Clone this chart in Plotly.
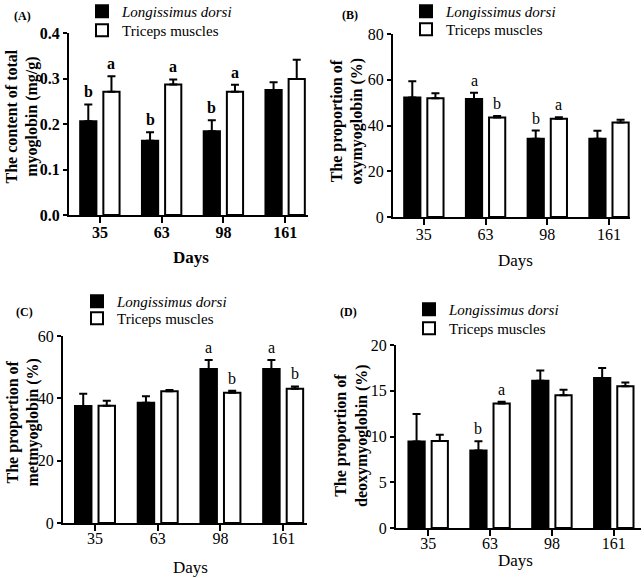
import plotly.graph_objects as go

# ---------------- data ----------------
days = ["35", "63", "98", "161"]

A_ld = [0.206, 0.163, 0.184, 0.275]
A_ld_err = [0.037, 0.019, 0.024, 0.017]
A_tm = [0.271, 0.287, 0.271, 0.299]
A_tm_err = [0.034, 0.011, 0.015, 0.042]
A_ld_lab = ["b", "b", "b", ""]
A_tm_lab = ["a", "a", "a", ""]

B_ld = [52.2, 51.6, 34.2, 34.2]
B_ld_err = [7.1, 2.7, 3.6, 3.5]
B_tm = [51.9, 43.5, 43.0, 41.3]
B_tm_err = [2.2, 0.6, 0.6, 1.2]
B_ld_lab = ["", "a", "b", ""]
B_tm_lab = ["", "b", "a", ""]

C_ld = [37.5, 38.6, 49.4, 49.4]
C_ld_err = [4.0, 2.1, 2.9, 2.9]
C_tm = [37.6, 42.3, 41.8, 43.1]
C_tm_err = [1.6, 0.4, 0.6, 0.7]
C_ld_lab = ["", "", "a", "a"]
C_tm_lab = ["", "", "b", "b"]

D_ld = [9.46, 8.48, 16.1, 16.4]
D_ld_err = [3.0, 1.0, 1.1, 1.1]
D_tm = [9.5, 13.6, 14.5, 15.5]
D_tm_err = [0.7, 0.2, 0.6, 0.4]
D_ld_lab = ["", "b", "", ""]
D_tm_lab = ["", "a", "", ""]

series_names = ["<i>Longissimus dorsi</i>", "Triceps muscles"]

W, H = 644, 578
FONT = "Liberation Serif"
BARGAP = 0.25
OFF = (1 - BARGAP) / 4
LEG_OFF = 15  # px between legend top and its row centre


def px(x):
    return x / W


def py(y):
    return 1 - y / H


fig = go.Figure()

panels = [
    dict(ld=A_ld, lde=A_ld_err, tm=A_tm, tme=A_tm_err, ldl=A_ld_lab, tml=A_tm_lab,
         xd=[69, 308], yd=[215, 33], yr=[0, 0.4], dt=0.1, fmt=".1f",
         xr=[-0.50, 3.37], bold=True, legx=82, legy=(10, 29), xso=-4,
         ytitle="The content of total<br>myoglobin (mg/g)", yt=(21.5, 117),
         xt=(191, 257), lab="(A)", labpos=(22, 16)),
    dict(ld=B_ld, lde=B_ld_err, tm=B_tm, tme=B_tm_err, ldl=B_ld_lab, tml=B_tm_lab,
         xd=[393, 630], yd=[217, 34], yr=[0, 80], dt=20, fmt="d",
         xr=[-0.50, 3.34], bold=False, legx=406, legy=(10, 28), xso=-4,
         ytitle="The proportion of<br>oxymyoglobin (%)", yt=(346.5, 121),
         xt=(515, 260), lab="(B)", labpos=(350, 15)),
    dict(ld=C_ld, lde=C_ld_err, tm=C_tm, tme=C_tm_err, ldl=C_ld_lab, tml=C_tm_lab,
         xd=[63, 307], yd=[523, 336], yr=[0, 60], dt=20, fmt="d",
         xr=[-0.51, 3.38], bold=False, legx=77, legy=(300, 317), xso=-6,
         ytitle="The proportion of<br>metmyoglobin (%)", yt=(22.5, 423),
         xt=(190, 567), lab="(C)", labpos=(24, 312)),
    dict(ld=D_ld, lde=D_ld_err, tm=D_tm, tme=D_tm_err, ldl=D_ld_lab, tml=D_tm_lab,
         xd=[396, 641], yd=[528, 345], yr=[0, 20], dt=5, fmt="d",
         xr=[-0.52, 3.44], bold=False, legx=409, legy=(308, 327), xso=-6,
         ytitle="The proportion of<br>deoxymyoglobin (%)", yt=(351, 435),
         xt=(515, 560), lab="(D)", labpos=(348, 312)),
]

annotations = []
layout = {}
xpos = list(range(len(days)))

for i, p in enumerate(panels):
    n = "" if i == 0 else str(i + 1)
    xa, ya = "x" + n, "y" + n
    weight = "bold" if p["bold"] else "normal"

    for j, (vals, errs, color, name) in enumerate(
            [(p["ld"], p["lde"], "black", series_names[0]),
             (p["tm"], p["tme"], "white", series_names[1])]):
        li = 2 * i + j + 1
        leg = "legend" if li == 1 else "legend%d" % li
        fig.add_trace(go.Bar(
            x=xpos, y=vals, name=name, xaxis=xa, yaxis=ya, legend=leg,
            marker=dict(color=color, line=dict(color="black", width=2)),
            error_y=dict(type="data", array=errs, arrayminus=[0] * len(errs),
                         symmetric=False, color="black", thickness=2, width=4),
            showlegend=True,
        ))
        layout[leg] = dict(
            x=px(p["legx"]), y=py(p["legy"][j] - LEG_OFF),
            xanchor="left", yanchor="top",
            bgcolor="rgba(0,0,0,0)", borderwidth=0,
            font=dict(family=FONT, size=15, color="black"))

    # significance letters
    for vals, errs, labs, sgn in [(p["ld"], p["lde"], p["ldl"], -1),
                                  (p["tm"], p["tme"], p["tml"], 1)]:
        for k, (v, e, l) in enumerate(zip(vals, errs, labs)):
            if l:
                annotations.append(dict(
                    x=k + sgn * OFF, y=v + e, xref=xa, yref=ya, text=l,
                    showarrow=False, yanchor="bottom", yshift=2,
                    font=dict(family=FONT, size=16, color="black", weight=weight)))

    layout["xaxis" + n] = dict(
        domain=[px(p["xd"][0]), px(p["xd"][1])], anchor=ya, range=p["xr"],
        tickvals=xpos, ticktext=days, showline=True, linewidth=2, linecolor="black",
        ticks="outside", ticklen=6, tickwidth=2, tickcolor="black",
        ticklabelstandoff=p["xso"],
        showgrid=False, zeroline=False,
        tickfont=dict(family=FONT, size=16, color="black", weight=weight))
    ticks = []
    t = p["yr"][0]
    while t <= p["yr"][1] + 1e-9:
        ticks.append(round(t, 3))
        t += p["dt"]
    layout["yaxis" + n] = dict(
        domain=[py(p["yd"][0]), py(p["yd"][1])], anchor=xa, range=p["yr"],
        tickvals=ticks, tickformat=p["fmt"], showline=True, linewidth=2,
        linecolor="black", ticks="outside", ticklen=4, tickwidth=2,
        tickcolor="black", showgrid=False, zeroline=False,
        tickfont=dict(family=FONT, size=16, color="black", weight=weight))

    annotations.append(dict(
        x=px(p["yt"][0]), y=py(p["yt"][1]), xref="paper", yref="paper",
        text=p["ytitle"], textangle=-90, showarrow=False,
        xanchor="center", yanchor="middle",
        font=dict(family=FONT, size=16, color="black", weight="bold")))
    annotations.append(dict(
        x=px(p["xt"][0]), y=py(p["xt"][1]), xref="paper", yref="paper",
        text="Days", showarrow=False, xanchor="center", yanchor="middle",
        font=dict(family=FONT, size=17, color="black", weight=weight)))
    annotations.append(dict(
        x=px(p["labpos"][0]), y=py(p["labpos"][1]), xref="paper", yref="paper",
        text=p["lab"], showarrow=False, xanchor="center", yanchor="middle",
        font=dict(family=FONT, size=12, color="black", weight="bold")))

fig.update_layout(
    width=W, height=H, margin=dict(l=0, r=0, t=0, b=0, autoexpand=False),
    paper_bgcolor="white", plot_bgcolor="white",
    barmode="group", bargap=BARGAP, bargroupgap=0.3,
    annotations=annotations, **layout)

fig.write_html("out.html", config={"displayModeBar": False},
               post_script="document.body.style.margin='0px';")
